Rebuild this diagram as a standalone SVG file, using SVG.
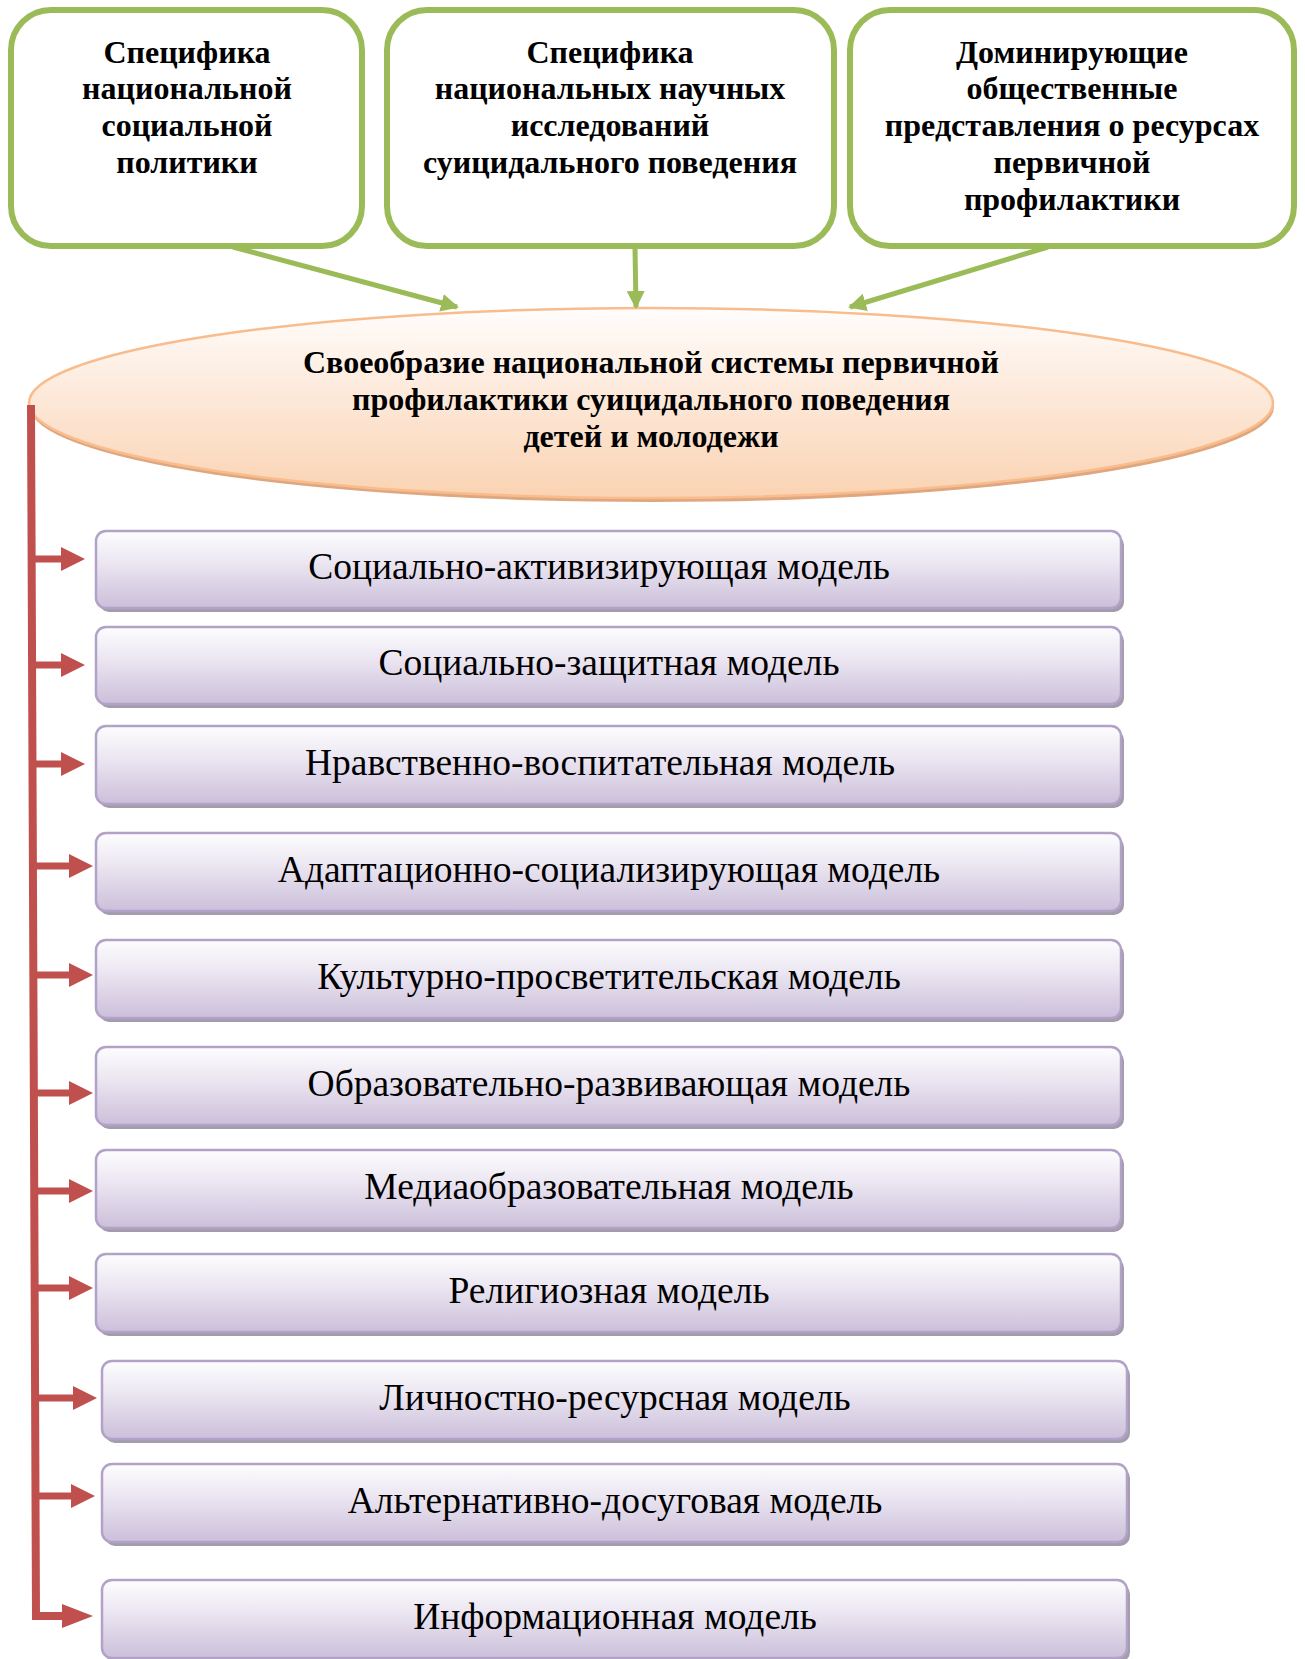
<svg xmlns="http://www.w3.org/2000/svg" width="1305" height="1659" viewBox="0 0 1305 1659">
<defs>
<linearGradient id="gEll" x1="0" y1="0" x2="0" y2="1">
<stop offset="0" stop-color="#FFFDFC"/>
<stop offset="0.45" stop-color="#FDE9DA"/>
<stop offset="1" stop-color="#FAD3B2"/>
</linearGradient>
<linearGradient id="gBox" x1="0" y1="0" x2="0" y2="1">
<stop offset="0" stop-color="#FDFDFE"/>
<stop offset="0.4" stop-color="#ECE7F2"/>
<stop offset="1" stop-color="#CBBFDA"/>
</linearGradient>
<marker id="ag" markerWidth="20" markerHeight="20" refX="16" refY="9" orient="auto" markerUnits="userSpaceOnUse">
<path d="M0,0 L18,9 L0,18 Z" fill="#9BBB59"/>
</marker>
<style>
.top rect{fill:#fff;stroke:#9BBB59;stroke-width:6}
.tt{font-family:"Liberation Serif","Times New Roman",serif;font-weight:bold;font-size:32px;text-anchor:middle;fill:#000}
.et{font-family:"Liberation Serif","Times New Roman",serif;font-weight:bold;font-size:32px;text-anchor:middle;fill:#000}
.mb .sh{fill:#A39CAC}
.mb .bx{fill:url(#gBox);stroke:#B3A2C7;stroke-width:2.5}
.mt{font-family:"Liberation Serif","Times New Roman",serif;font-size:37.5px;text-anchor:middle;fill:#000}
.gl{stroke:#9BBB59;stroke-width:5;fill:none;marker-end:url(#ag)}
.rl{stroke:#C0504D;stroke-width:8;fill:none}
.rs{stroke:#C0504D;stroke-width:7;fill:none}
.rh{fill:#C0504D}
</style>
</defs>

<g id="box-social-policy" class="top">
<rect x="11" y="10" width="351" height="236" rx="40"/>
<text class="tt" x="187" y="63">Специфика</text>
<text class="tt" x="187" y="99">национальной</text>
<text class="tt" x="187" y="136">социальной</text>
<text class="tt" x="187" y="173">политики</text>
</g>

<g id="box-research" class="top">
<rect x="387" y="10" width="447" height="236" rx="40"/>
<text class="tt" x="610" y="63">Специфика</text>
<text class="tt" x="610" y="99">национальных научных</text>
<text class="tt" x="610" y="136">исследований</text>
<text class="tt" x="610" y="173">суицидального поведения</text>
</g>

<g id="box-dominant" class="top">
<rect x="850" y="10" width="444" height="236" rx="40"/>
<text class="tt" x="1072" y="63">Доминирующие</text>
<text class="tt" x="1072" y="99">общественные</text>
<text class="tt" x="1072" y="136">представления о ресурсах</text>
<text class="tt" x="1072" y="173">первичной</text>
<text class="tt" x="1072" y="210">профилактики</text>
</g>

<g id="ellipse-system">
<ellipse cx="652" cy="407" rx="622" ry="95" fill="#DFA77F"/>
<ellipse cx="651" cy="403" rx="622" ry="95" fill="url(#gEll)" stroke="#F9BC8C" stroke-width="2.5"/>
<text class="et" x="651" y="373">Своеобразие национальной системы первичной</text>
<text class="et" x="651" y="410">профилактики суицидального поведения</text>
<text class="et" x="651" y="447">детей и молодежи</text>
</g>

<g id="m1" class="mb"><rect class="sh" x="99" y="535" width="1025" height="77" rx="10"/><rect class="bx" x="96" y="531" width="1025" height="77" rx="10"/><text class="mt" x="599" y="579">Социально-активизирующая модель</text></g>
<g id="m2" class="mb"><rect class="sh" x="99" y="631" width="1025" height="77" rx="10"/><rect class="bx" x="96" y="627" width="1025" height="77" rx="10"/><text class="mt" x="609" y="675">Социально-защитная модель</text></g>
<g id="m3" class="mb"><rect class="sh" x="99" y="730" width="1025" height="78" rx="10"/><rect class="bx" x="96" y="726" width="1025" height="78" rx="10"/><text class="mt" x="600" y="775">Нравственно-воспитательная модель</text></g>
<g id="m4" class="mb"><rect class="sh" x="99" y="837" width="1025" height="78" rx="10"/><rect class="bx" x="96" y="833" width="1025" height="78" rx="10"/><text class="mt" x="609" y="882">Адаптационно-социализирующая модель</text></g>
<g id="m5" class="mb"><rect class="sh" x="99" y="944" width="1025" height="78" rx="10"/><rect class="bx" x="96" y="940" width="1025" height="78" rx="10"/><text class="mt" x="609" y="989">Культурно-просветительская модель</text></g>
<g id="m6" class="mb"><rect class="sh" x="99" y="1051" width="1025" height="78" rx="10"/><rect class="bx" x="96" y="1047" width="1025" height="78" rx="10"/><text class="mt" x="609" y="1096">Образовательно-развивающая модель</text></g>
<g id="m7" class="mb"><rect class="sh" x="99" y="1154" width="1025" height="78" rx="10"/><rect class="bx" x="96" y="1150" width="1025" height="78" rx="10"/><text class="mt" x="609" y="1199">Медиаобразовательная модель</text></g>
<g id="m8" class="mb"><rect class="sh" x="99" y="1258" width="1025" height="78" rx="10"/><rect class="bx" x="96" y="1254" width="1025" height="78" rx="10"/><text class="mt" x="609" y="1303">Религиозная модель</text></g>
<g id="m9" class="mb"><rect class="sh" x="105" y="1365" width="1025" height="78" rx="10"/><rect class="bx" x="102" y="1361" width="1025" height="78" rx="10"/><text class="mt" x="615" y="1410">Личностно-ресурсная модель</text></g>
<g id="m10" class="mb"><rect class="sh" x="105" y="1468" width="1025" height="78" rx="10"/><rect class="bx" x="102" y="1464" width="1025" height="78" rx="10"/><text class="mt" x="615" y="1513">Альтернативно-досуговая модель</text></g>
<g id="m11" class="mb"><rect class="sh" x="105" y="1584" width="1025" height="78" rx="10"/><rect class="bx" x="102" y="1580" width="1025" height="78" rx="10"/><text class="mt" x="615" y="1629">Информационная модель</text></g>

<g id="connectors">
<line class="gl" x1="233" y1="247" x2="457" y2="307"/>
<line class="gl" x1="635" y1="247" x2="636" y2="307"/>
<line class="gl" x1="1048" y1="247" x2="850" y2="307"/>
<path class="rl" d="M31,405 L36,1616 L64,1616"/>
<path class="rs" d="M33,559 H64 M33,665 H64 M33,764 H64 M34,866 H71 M34,975 H71 M35,1093 H71 M35,1191 H71 M35,1288 H71 M36,1398 H75 M36,1496 H73"/>
<path class="rh" d="M61,547 L85,559 L61,571Z M61,653 L85,665 L61,677Z M61,752 L85,764 L61,776Z M69,854 L93,866 L69,878Z M69,963 L93,975 L69,987Z M69,1081 L93,1093 L69,1105Z M69,1179 L93,1191 L69,1203Z M69,1276 L93,1288 L69,1300Z M73,1386 L97,1398 L73,1410Z M71,1484 L95,1496 L71,1508Z M62,1604 L93,1616 L62,1628Z"/>
</g>
</svg>
